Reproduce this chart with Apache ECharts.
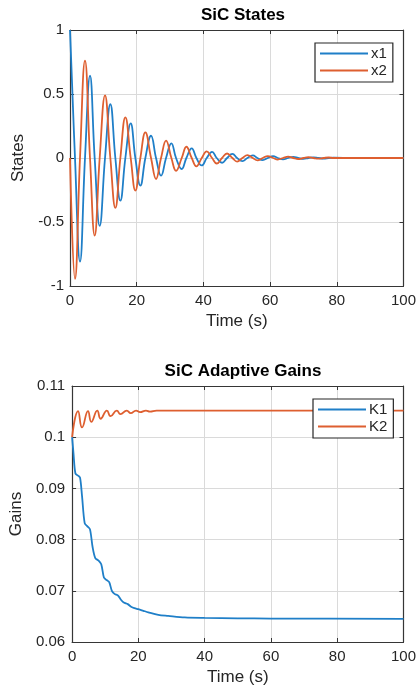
<!DOCTYPE html>
<html>
<head>
<meta charset="utf-8">
<script src="https://cdn.jsdelivr.net/npm/echarts@6/dist/echarts.min.js"></script>
<style>
html,body{margin:0;padding:0;background:#fff;}
#chart{width:419px;height:689px;}
</style>
</head>
<body>
<div id="chart"></div>
<script>
// ---- Data ----
const statesTitle = 'SiC States';
const gainsTitle = 'SiC Adaptive Gains';
const timeTicks = [0, 20, 40, 60, 80, 100];
const statesTicks = [-1, -0.5, 0, 0.5, 1];
const gainsTicks = [0.06, 0.07, 0.08, 0.09, 0.1, 0.11];

const statesTime = [0, 1.5, 3.0, 4.5, 6.0, 7.4, 8.9, 10.5, 12.1, 13.6, 15.1, 16.6, 18.2, 19.6, 21.1, 22.6,
  24.3, 25.8, 27.3, 28.8, 30.4, 31.8, 33.5, 34.9, 36.5, 37.9, 39.5, 41.0, 42.6, 44.0, 45.6, 47.1, 48.7,
  50.1, 51.7, 53.2, 54.8, 56.2, 57.8, 59.3, 60.9, 62.3, 63.9, 65.4, 67.0, 68.4, 70.0, 71.5, 73.0, 74.5,
  76.0, 77.6, 79.0, 85, 92, 100];
const x1Values = [1, 0, -0.81, 0, 0.643, 0, -0.53, 0, 0.42, 0, -0.333, 0, 0.27, 0, -0.216, 0,
  0.174, 0, -0.138, 0, 0.115, 0, -0.086, 0, 0.075, 0, -0.058, 0, 0.048, 0, -0.037, 0, 0.032,
  0, -0.025, 0, 0.02, 0, -0.016, 0, 0.014, 0, -0.011, 0, 0.009, 0, -0.007, 0, 0.005, 0,
  -0.004, 0, 0.003, 0, 0, 0];
const x2Values = [0, -0.945, 0, 0.76, 0, -0.607, 0, 0.49, 0, -0.39, 0, 0.318, 0, -0.255, 0, 0.2,
  0, -0.164, 0, 0.135, 0, -0.1, 0, 0.088, 0, -0.065, 0, 0.052, 0, -0.043, 0, 0.035, 0,
  -0.028, 0, 0.023, 0, -0.018, 0, 0.015, 0, -0.012, 0, 0.01, 0, -0.008, 0, 0.006, 0, -0.005,
  0, 0.004, 0, 0, 0, 0];

const k1Time = [0, 0.4, 1.0, 1.8, 2.4, 3.0, 3.8, 4.6, 5.4, 6.2, 7.0, 8.0, 8.8, 9.6, 10.4, 11.2, 12.0,
  12.8, 13.8, 14.8, 15.6, 16.8, 17.8, 18.8, 20, 21.5, 23, 26, 29, 34, 40, 50, 60, 100];
const k1Values = [0.1, 0.097, 0.0929, 0.0925, 0.0921, 0.0885, 0.0832, 0.0826, 0.082, 0.0785, 0.0764,
  0.0759, 0.0752, 0.0726, 0.0721, 0.0717, 0.0700, 0.0694, 0.0691, 0.0682, 0.0677, 0.0674, 0.0669,
  0.0666, 0.0664, 0.0661, 0.0658, 0.0653, 0.0651, 0.0648, 0.0647, 0.06462, 0.06458, 0.06452];

const k2Time = [0, 1.8, 3.0, 4.8, 5.8, 7.6, 8.6, 10.5, 11.6, 13.5, 14.6, 16.5, 17.7, 19.3, 20.5, 22.3,
  23.5, 25.5, 40, 100];
const k2Values = [0.1, 0.1051, 0.1019, 0.1051, 0.1030, 0.1052, 0.1036, 0.1052, 0.1041, 0.1052, 0.1045,
  0.1052, 0.1047, 0.1052, 0.1049, 0.1052, 0.1050, 0.1052, 0.1052, 0.1052];

// ---- Chart ----
const pairs = (t, v) => t.map((ti, i) => [ti, v[i]]);
const FONT = "'Liberation Sans', Arial, Helvetica, sans-serif";
const BLUE = '#1f7fc8', ORANGE = '#de5f30';
const AXIS_COLOR = '#363636', TEXT_COLOR = '#262626', GRID_COLOR = '#dadada';
const fmt = v => String(+(+v).toFixed(2));

function mainX(gridIndex, nameGap) {
  return {
    type: 'value', gridIndex, min: timeTicks[0], max: timeTicks[timeTicks.length - 1],
    interval: timeTicks[1] - timeTicks[0],
    name: 'Time (s)', nameLocation: 'middle', nameGap,
    nameTextStyle: { fontFamily: FONT, fontSize: 17, color: TEXT_COLOR },
    axisLine: { show: true, onZero: false, lineStyle: { color: AXIS_COLOR, width: 1.2 } },
    axisTick: { show: true, inside: true, length: 4, lineStyle: { color: AXIS_COLOR } },
    axisLabel: { fontFamily: FONT, fontSize: 15, color: TEXT_COLOR, margin: 7, formatter: fmt, showMinLabel: true, showMaxLabel: true },
    splitLine: { show: true, lineStyle: { color: GRID_COLOR, width: 1 } }
  };
}
function topX(gridIndex) {
  return {
    type: 'value', gridIndex, position: 'top', min: timeTicks[0], max: timeTicks[timeTicks.length - 1],
    interval: timeTicks[1] - timeTicks[0],
    axisLine: { show: true, onZero: false, lineStyle: { color: AXIS_COLOR, width: 1.2 } },
    axisTick: { show: true, inside: true, length: 4, lineStyle: { color: AXIS_COLOR } },
    axisLabel: { show: false }, splitLine: { show: false }
  };
}
function mainY(gridIndex, ticks, name, nameGap, margin) {
  return {
    type: 'value', gridIndex, min: ticks[0], max: ticks[ticks.length - 1],
    interval: ticks[1] - ticks[0],
    name, nameLocation: 'middle', nameGap,
    nameTextStyle: { fontFamily: FONT, fontSize: 17, color: TEXT_COLOR },
    axisLine: { show: true, onZero: false, lineStyle: { color: AXIS_COLOR, width: 1.2 } },
    axisTick: { show: true, inside: true, length: 4, lineStyle: { color: AXIS_COLOR } },
    axisLabel: { fontFamily: FONT, fontSize: 15, color: TEXT_COLOR, margin, formatter: fmt, showMinLabel: true, showMaxLabel: true },
    splitLine: { show: true, lineStyle: { color: GRID_COLOR, width: 1 } }
  };
}
function rightY(gridIndex, ticks) {
  return {
    type: 'value', gridIndex, position: 'right', min: ticks[0], max: ticks[ticks.length - 1],
    interval: ticks[1] - ticks[0],
    axisLine: { show: true, onZero: false, lineStyle: { color: AXIS_COLOR, width: 1.2 } },
    axisTick: { show: true, inside: true, length: 4, lineStyle: { color: AXIS_COLOR } },
    axisLabel: { show: false }, splitLine: { show: false }
  };
}
function legendAt(left, top, names) {
  return {
    data: names, orient: 'vertical', left, top, icon: 'rect', itemWidth: 48, itemHeight: 2,
    itemGap: 2, padding: [3, 6, 4, 5], backgroundColor: '#fff',
    borderColor: '#262626', borderWidth: 1.2, borderRadius: 0,
    textStyle: { fontFamily: FONT, fontSize: 15, color: TEXT_COLOR, padding: [0, 0, 0, -2] },
    selectedMode: false
  };
}
function lineSeries(name, color, data, xi, yi, smooth) {
  return {
    name, type: 'line', xAxisIndex: xi, yAxisIndex: yi, data, smooth,
    symbol: 'none', lineStyle: { color, width: 1.8 }, itemStyle: { color },
    animation: false, clip: true
  };
}

const chart = echarts.init(document.getElementById('chart'), null, { renderer: 'canvas' });
chart.setOption({
  backgroundColor: '#ffffff',
  animation: false,
  title: [
    { text: statesTitle, left: 238, top: 2, textAlign: 'center',
      textStyle: { fontFamily: FONT, fontSize: 17, fontWeight: 'bold', color: '#000' } },
    { text: gainsTitle, left: 238, top: 358, textAlign: 'center',
      textStyle: { fontFamily: FONT, fontSize: 17, fontWeight: 'bold', color: '#000' } }
  ],
  legend: [
    legendAt(315, 43, ['x1', 'x2']),
    legendAt(313, 399, ['K1', 'K2'])
  ],
  grid: [
    { left: 70, top: 30, width: 336, height: 256, containLabel: false },
    { left: 70, top: 386, width: 336, height: 256, containLabel: false }
  ],
  xAxis: [mainX(0, 27), topX(0), mainX(1, 27), topX(1)],
  yAxis: [
    mainY(0, statesTicks, 'States', 39, 6), rightY(0, statesTicks),
    mainY(1, gainsTicks, 'Gains', 43, 7), rightY(1, gainsTicks)
  ],
  series: [
    lineSeries('x1', BLUE, pairs(statesTime, x1Values), 0, 0, 0.45),
    lineSeries('x2', ORANGE, pairs(statesTime, x2Values), 0, 0, 0.45),
    lineSeries('K1', BLUE, pairs(k1Time, k1Values), 2, 2, 0.3),
    lineSeries('K2', ORANGE, pairs(k2Time, k2Values), 2, 2, 0.5)
  ]
});
</script>
</body>
</html>
